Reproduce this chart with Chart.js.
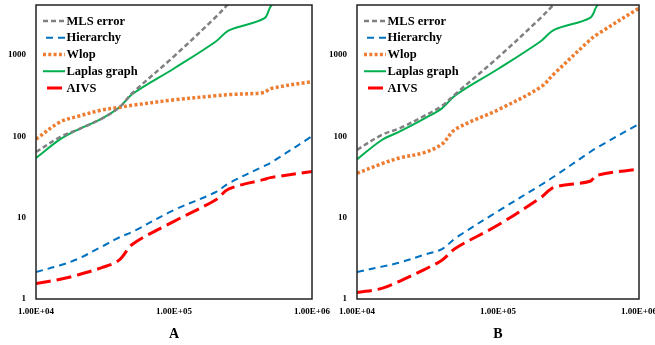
<!DOCTYPE html>
<html>
<head>
<meta charset="utf-8">
<script src="https://cdn.jsdelivr.net/npm/chart.js@4.4.1/dist/chart.umd.min.js"></script>
<style>
  html, body { margin: 0; padding: 0; background: #fff; overflow: hidden; }
  body { width: 655px; height: 345px; position: relative; }
  canvas { position: absolute; top: 0; }
  #chartA { left: 0; }
  #chartB { left: 321px; }
</style>
</head>
<body>
<canvas id="chartA" width="340" height="345"></canvas>
<canvas id="chartB" width="345" height="345"></canvas>
<script>
// point counts (x) shared by every series
const xValues = [1e4, 1.5e4, 2e4, 3e4, 4e4, 5e4, 1e5, 2e5, 2.5e5, 4.5e5, 5e5, 1e6];

// panel A
const mlsA  = [64, 98, 120, 165, 225, 340, 960, 2900, 4300, 12000, 14000, 40000];
const hierA = [2.15, 2.6, 3.1, 4.4, 5.7, 6.7, 12.4, 20.5, 26.5, 43, 47, 100];
const wlopA = [92, 150, 175, 210, 226, 240, 280, 315, 325, 345, 385, 470];
const lapA  = [54, 92, 120, 165, 225, 330, 680, 1450, 2000, 2800, 3900, 20000];
const aivsA = [1.55, 1.75, 1.97, 2.43, 3.0, 4.7, 9.0, 16.5, 22.5, 29.5, 31, 37];

// panel B
const mlsB  = [68, 104, 125, 178, 236, 332, 930, 2830, 4200, 12000, 14000, 40000];
const hierB = [2.15, 2.5, 2.8, 3.5, 4.1, 5.6, 12, 25, 32, 64, 72, 142];
const wlopB = [35, 46, 54, 63, 80, 122, 211, 400, 585, 1530, 1760, 3750];
const lapB  = [52, 90, 114, 165, 220, 320, 670, 1460, 2030, 2850, 3930, 20000];
const aivsB = [1.2, 1.35, 1.65, 2.3, 3.0, 4.2, 8.1, 17.5, 23.5, 28, 33, 39.5];

const seriesNames = ['MLS error', 'Hierarchy', 'Wlop', 'Laplas graph', 'AIVS'];
const xTickValues = [1e4, 1e5, 1e6];
const xTickLabels = ['1.00E+04', '1.00E+05', '1.00E+06'];
const yTickValues = [1, 10, 100, 1000];

const SERIF = "'Liberation Serif', 'Times New Roman', serif";

const styles = [
  { color: '#808080', width: 2.5, dash: [5, 3] },
  { color: '#0070C0', width: 2, dash: [7, 5] },
  { color: '#ED7D31', width: 3.5, dash: [3, 2.3] },
  { color: '#00B050', width: 2, dash: [] },
  { color: '#FF0000', width: 3, dash: [15, 6] }
];
const legendDashOffset = [0, -3, 0, 0, -4];

// plot frame and the legend inside the plot area
const frameLegend = {
  id: 'frameLegend',
  afterDatasetsDraw(chart) {
    const { ctx, chartArea: a } = chart;
    ctx.save();
    ctx.strokeStyle = '#222';
    ctx.lineWidth = 1.5;
    ctx.strokeRect(a.left, a.top, a.right - a.left, a.bottom - a.top);

    ctx.font = 'bold 12.5px ' + SERIF;
    ctx.textBaseline = 'middle';
    chart.data.datasets.forEach((ds, i) => {
      const y = a.top + 16 + i * 16.75;
      const x0 = a.left + 7;
      ctx.beginPath();
      ctx.setLineDash(ds.borderDash);
      ctx.lineDashOffset = legendDashOffset[i];
      ctx.strokeStyle = ds.borderColor;
      ctx.lineWidth = ds.borderWidth;
      ctx.moveTo(x0, y);
      ctx.lineTo(x0 + 22, y);
      ctx.stroke();
      ctx.setLineDash([]);
      ctx.fillStyle = '#000';
      ctx.fillText(ds.label, x0 + 23.5, y + 0.5);
    });
    ctx.restore();
  }
};

function noPad(s) {
  s.paddingTop = 0;
  s.paddingBottom = 0;
  s.paddingLeft = 0;
  s.paddingRight = 0;
}

function makeChart(id, series, panel, rightPad) {
  const font = { family: SERIF, weight: 'bold' };
  return new Chart(document.getElementById(id), {
    type: 'line',
    data: {
      datasets: series.map((vals, i) => ({
        label: seriesNames[i],
        data: xValues.map((x, j) => ({ x: x, y: vals[j] })),
        borderColor: styles[i].color,
        borderWidth: styles[i].width,
        borderDash: styles[i].dash,
        borderCapStyle: 'butt',
        pointRadius: 0,
        tension: 0.35,
        fill: false
      }))
    },
    options: {
      responsive: false,
      animation: false,
      layout: { padding: { top: 5, right: rightPad, left: 0, bottom: 0 } },
      plugins: { legend: { display: false }, tooltip: { enabled: false } },
      scales: {
        x: {
          type: 'logarithmic', min: 1e4, max: 1e6,
          grid: { display: false, drawTicks: false },
          border: { display: false },
          afterBuildTicks: s => { s.ticks = xTickValues.map(v => ({ value: v })); },
          ticks: {
            autoSkip: false, maxRotation: 0, padding: 7, color: '#000',
            font: Object.assign({ size: 9 }, font),
            callback: (v, i) => xTickLabels[i]
          },
          title: {
            display: true, text: panel, color: '#000',
            font: Object.assign({ size: 14 }, font),
            padding: { top: 0, bottom: 2 }
          },
          afterFit: s => { s.height = 46; noPad(s); }
        },
        y: {
          type: 'logarithmic', min: 1, max: 4100,
          grid: { display: false, drawTicks: false },
          border: { display: false },
          afterBuildTicks: s => { s.ticks = yTickValues.map(v => ({ value: v })); },
          ticks: {
            padding: 10, color: '#000',
            font: Object.assign({ size: 9 }, font),
            callback: v => String(v)
          },
          afterFit: s => { s.width = 36; noPad(s); }
        }
      }
    },
    plugins: [frameLegend]
  });
}

makeChart('chartA', [mlsA, hierA, wlopA, lapA, aivsA], 'A', 28);
makeChart('chartB', [mlsB, hierB, wlopB, lapB, aivsB], 'B', 27);
</script>
</body>
</html>
